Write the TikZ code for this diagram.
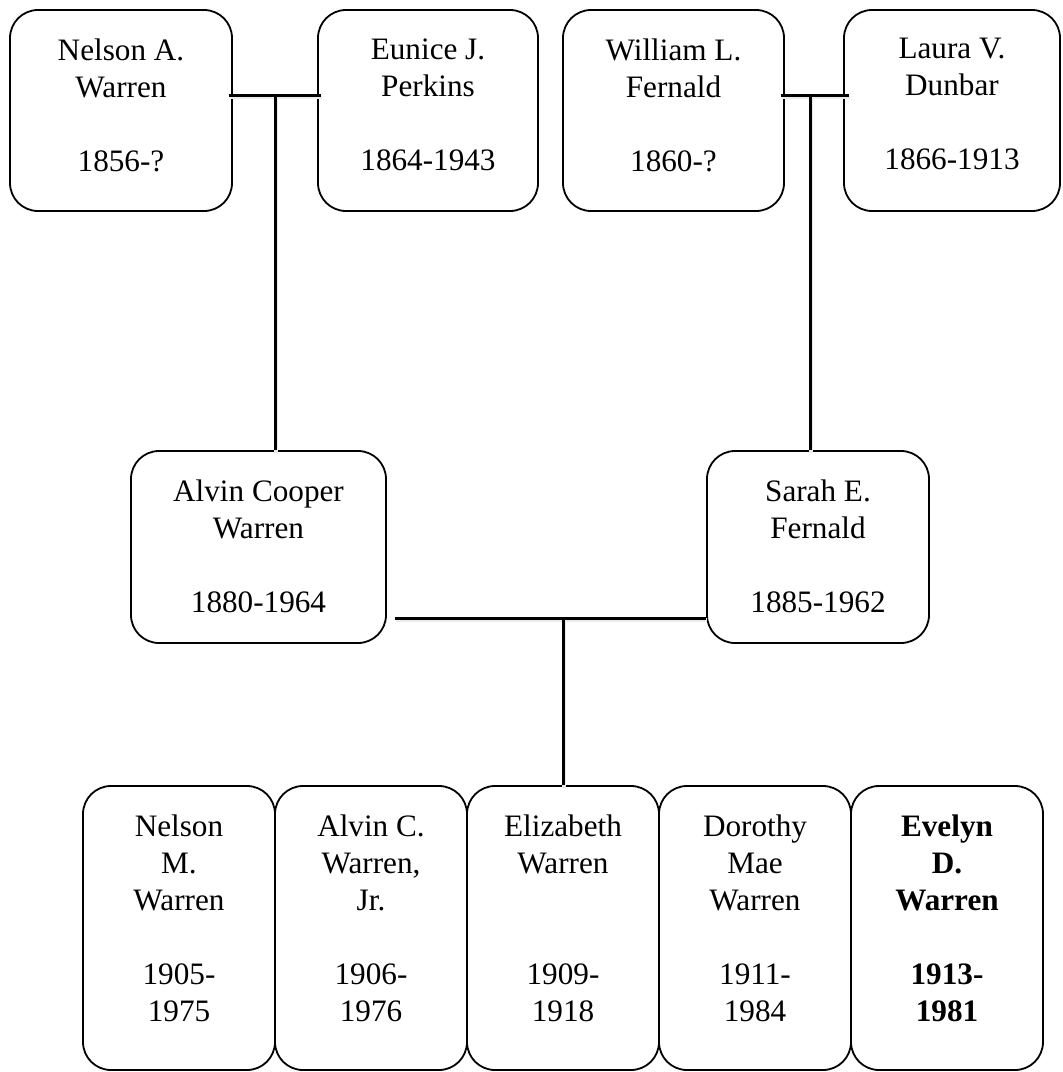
\documentclass[tikz,border=0pt]{standalone}
\usepackage{fontspec}
\setmainfont{Liberation Serif}
\begin{document}
\begin{tikzpicture}[x=0.5pt,y=-0.5pt,
  box/.style={draw, line width=0.9pt, rounded corners=14pt, inner sep=0pt},
  topbox/.style={box, minimum height=100.5pt},
  midbox/.style={box, minimum height=96pt},
  kidbox/.style={box, minimum height=142pt, minimum width=96pt},
  txt/.style={anchor=north, align=center, inner sep=0pt, font=\fontsize{15.6pt}{18.5pt}\selectfont},
  conn/.style={line width=1.5pt, preaction={draw=black!8, line width=2pt, transform canvas={xshift=0.5pt,yshift=-1.2pt}}}]
\useasboundingbox (0,0) rectangle (1063,1072);
% top row
\node[topbox, minimum width=111pt] (na) at (121,110.5) {};
\node[txt] (na-t) at (121,38) {Nelson A.\\Warren\\[18.5pt]1856-?};
\node[topbox, minimum width=110pt] (ej) at (428,110.5) {};
\node[txt] (ej-t) at (428,38) {Eunice J.\\Perkins\\[18.5pt]1864-1943};
\node[topbox, minimum width=110.5pt] (wf) at (673.5,110.5) {};
\node[txt] (wf-t) at (673.5,38) {William L.\\Fernald\\[18.5pt]1860-?};
\node[topbox, minimum width=108pt] (ld) at (952,110.5) {};
\node[txt] (ld-t) at (952,38) {Laura V.\\Dunbar\\[18.5pt]1866-1913};
% middle row
\node[midbox, minimum width=127.5pt] (ac) at (258.5,547) {};
\node[txt] (ac-t) at (258.5,479) {Alvin Cooper\\Warren\\[18.5pt]1880-1964};
\node[midbox, minimum width=111pt] (sf) at (818,547) {};
\node[txt] (sf-t) at (818,479) {Sarah E.\\Fernald\\[18.5pt]1885-1962};
% bottom row
\node[kidbox] (k1) at (179,928) {};
\node[txt] (k1-t) at (179,814) {Nelson\\M.\\Warren\\[18.5pt]1905-\\1975};
\node[kidbox] (k2) at (371,928) {};
\node[txt] (k2-t) at (371,814) {Alvin C.\\Warren,\\Jr.\\[18.5pt]1906-\\1976};
\node[kidbox] (k3) at (563,928) {};
\node[txt] (k3-t) at (563,814) {Elizabeth\\Warren\\[37pt]1909-\\1918};
\node[kidbox] (k4) at (755,928) {};
\node[txt] (k4-t) at (755,814) {Dorothy\\Mae\\Warren\\[18.5pt]1911-\\1984};
\node[kidbox] (k5) at (947,928) {};
\node[txt, font=\fontsize{15.6pt}{18.5pt}\selectfont\bfseries] (k5-t) at (947,814) {Evelyn\\D.\\Warren\\[18.5pt]1913-\\1981};
% connectors
\coordinate (j1) at (275,95);
\coordinate (j2) at (810,95);
\coordinate (j3) at (563,618);
\draw[conn] ([xshift=-2pt,yshift=7.75pt]na.east) -- ([xshift=2pt,yshift=7.75pt]ej.west);
\draw[conn] (j1) -- (j1 |- ac.north);
\draw[conn] ([xshift=-2pt,yshift=7.75pt]wf.east) -- ([xshift=3pt,yshift=7.75pt]ld.west);
\draw[conn] (j2) -- (j2 |- sf.north);
\draw[conn] ([xshift=4pt,yshift=-35.5pt]ac.east) -- ([yshift=-35.5pt]sf.west);
\draw[conn] (j3) -- (j3 |- k3.north);
\end{tikzpicture}
\end{document}
